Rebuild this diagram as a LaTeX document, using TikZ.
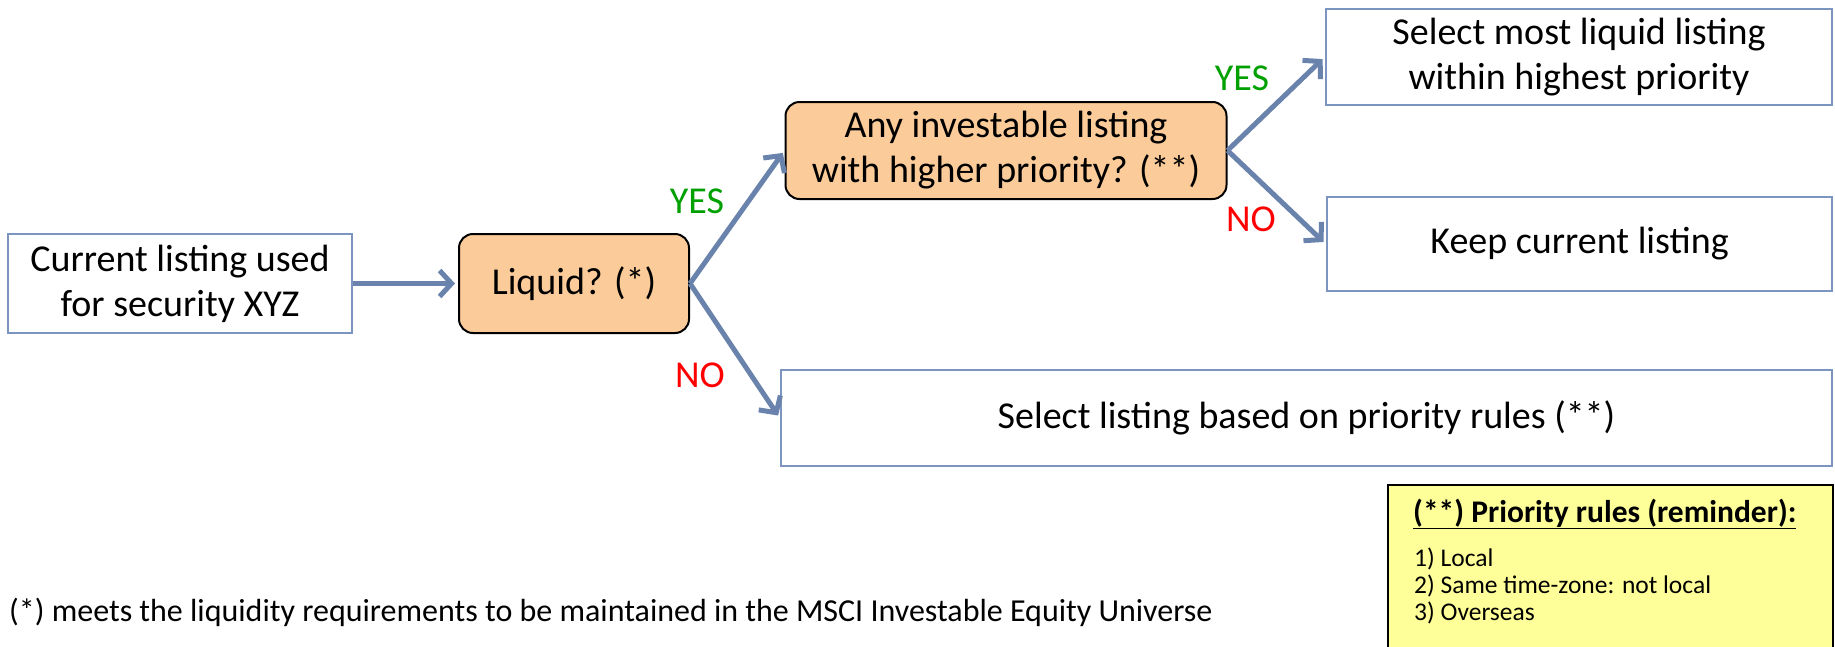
\documentclass[tikz,border=0pt]{standalone}
\usepackage{fontspec}
\setmainfont{Carlito}
\usetikzlibrary{arrows.meta}
\definecolor{flowarrow}{RGB}{106,131,172}
\definecolor{boxedge}{RGB}{124,148,192}
\definecolor{decisionfill}{RGB}{251,203,153}
\definecolor{notefill}{RGB}{255,255,153}
\definecolor{yesgreen}{RGB}{0,160,0}
\definecolor{nored}{RGB}{255,0,0}
\tikzset{
  bigtext/.style={font=\fontsize{38}{45}\selectfont},
  outcome/.style={bigtext, draw=boxedge, line width=2.5pt, fill=white,
    inner sep=0pt, align=center},
  decision/.style={bigtext, draw=black, line width=2pt, fill=decisionfill,
    rounded corners=14pt, inner sep=0pt, align=center},
  flow/.style={draw=flowarrow, line width=5pt, line join=round,
    -{Straight Barb[length=12pt,width=26pt]}, shorten >=3pt},
  yeslabel/.style={bigtext, text=yesgreen, inner sep=0pt},
  nolabel/.style={bigtext, text=nored, inner sep=0pt},
  notetext/.style={font=\fontsize{25.5}{29}\selectfont, inner sep=0pt, anchor=base west},
}
\begin{document}
\begin{tikzpicture}[x=1pt,y=-1pt]
\useasboundingbox (0,0) rectangle (1835,646);
\clip (0,0) rectangle (1835,646);

% flow boxes
\node[outcome, minimum width=344pt, minimum height=99pt] (cur) at (180,283.5)
  {Current listing used\\for security XYZ};
\node[decision, minimum width=230pt, minimum height=99pt] (liq) at (574,283.5)
  {Liquid? (*)};
\node[decision, minimum width=441pt, minimum height=97pt] (any) at (1006,150.5)
  {Any investable listing\\with higher priority? (**)};
\node[outcome, minimum width=506pt, minimum height=96pt] (best) at (1579,57)
  {Select most liquid listing\\within highest priority};
\node[outcome, minimum width=505pt, minimum height=94pt] (keep) at (1579.5,244)
  {Keep current listing};
\node[outcome, minimum width=1051pt, minimum height=96pt] (rules) at (1306.5,418)
  {Select listing based on priority rules (**)};

% connectors
\draw[flow] (cur.east) -- (liq.west);
\draw[flow] (liq.east) -- (any.west);
\draw[flow] (liq.east) -- (rules.west);
\draw[flow] (any.east) -- (best.west);
\draw[flow] (any.east) -- (keep.west);

% branch labels
\node[yeslabel] (yes1) at (697,201) {YES};
\node[nolabel]  (no1)  at (700,375) {NO};
\node[yeslabel] (yes2) at (1242,78) {YES};
\node[nolabel]  (no2)  at (1251,219) {NO};

% reminder note
\node[draw=black, line width=2pt, fill=notefill, anchor=north west,
  minimum width=445pt, minimum height=200pt, inner sep=0pt] (prio) at (1387,484) {};
\node[anchor=base west, inner sep=0pt, font=\fontsize{31.5}{36}\selectfont\bfseries]
  (ptitle) at (1413,522) {\underline{(**) Priority rules (reminder):}};
\node[notetext] (p1) at (1414,566) {1) Local};
\node[notetext] (p2) at (1414,593) {2) Same time-zone: not local};
\node[notetext] (p3) at (1414,620) {3) Overseas};

% footnote
\node[anchor=base west, inner sep=0pt, font=\fontsize{32}{36}\selectfont]
  (foot) at (9,621)
  {(*) meets the liquidity requirements to be maintained in the MSCI Investable Equity Universe};
\end{tikzpicture}
\end{document}
